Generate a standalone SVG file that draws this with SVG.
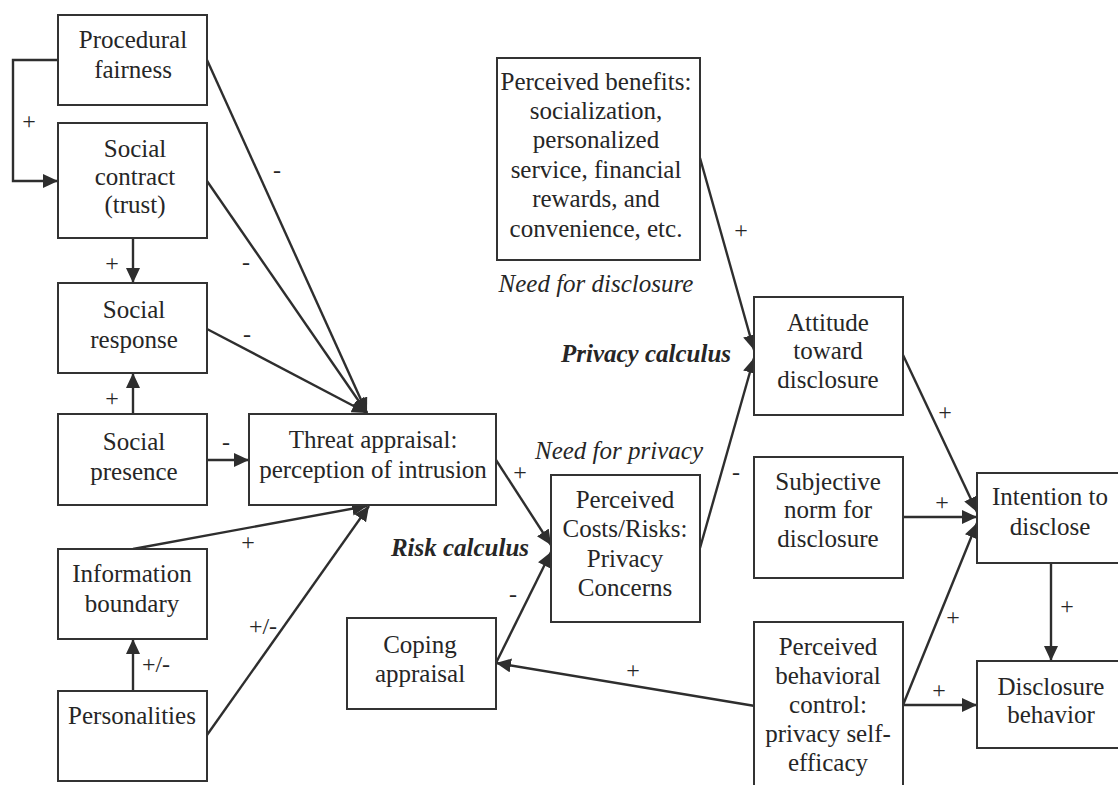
<svg xmlns="http://www.w3.org/2000/svg" width="1118" height="785" viewBox="0 0 1118 785">
  <style>
    .box { fill: #ffffff; stroke: #333333; stroke-width: 2; }
    .t { font-family: "Liberation Serif", "Times New Roman", serif; font-size: 25px; fill: #262626; text-anchor: middle; }
    .lbl { font-family: "Liberation Serif", "Times New Roman", serif; font-size: 24px; fill: #262626; text-anchor: middle; }
    .it { font-family: "Liberation Serif", "Times New Roman", serif; font-size: 25px; font-style: italic; fill: #262626; text-anchor: middle; }
    .bi { font-family: "Liberation Serif", "Times New Roman", serif; font-size: 25px; font-style: italic; font-weight: bold; fill: #262626; text-anchor: middle; }
    .c { fill: none; stroke: #2e2e2e; stroke-width: 2.4; marker-end: url(#arrow); }
  </style>
  <defs>
    <marker id="arrow" markerUnits="userSpaceOnUse" markerWidth="16" markerHeight="14" refX="15" refY="7" orient="auto">
      <path d="M0,0 L15,7 L0,14 Z" fill="#2e2e2e"/>
    </marker>
  </defs>
  <rect width="1118" height="785" fill="#ffffff"/>

  <!-- connectors -->
  <g id="connectors">
    <path class="c" d="M58,60 H13 V181 H58"/>
    <path class="c" d="M133,238 V283"/>
    <path class="c" d="M133,414 V373"/>
    <path class="c" d="M207,60 L367,413"/>
    <path class="c" d="M207,181 L367,413"/>
    <path class="c" d="M207,329 L367,413"/>
    <path class="c" d="M207,460 H249"/>
    <path class="c" d="M133,549 L367,506"/>
    <path class="c" d="M207,735 L369,506"/>
    <path class="c" d="M133,691 V639"/>
    <path class="c" d="M496,460 L551,545"/>
    <path class="c" d="M496,663 L551,552"/>
    <path class="c" d="M755,706 L496,663"/>
    <path class="c" d="M700,158 L754,350"/>
    <path class="c" d="M700,548 L754,358"/>
    <path class="c" d="M903,355 L977,512"/>
    <path class="c" d="M903,517 H977"/>
    <path class="c" d="M903,705 L977,523"/>
    <path class="c" d="M903,705 H977"/>
    <path class="c" d="M1051,563 V661"/>

    <!-- signs on the paths -->
    <text class="lbl" x="29" y="129">+</text>
    <text class="lbl" x="277" y="178">-</text>
    <text class="lbl" x="112" y="271">+</text>
    <text class="lbl" x="246" y="270">-</text>
    <text class="lbl" x="247" y="342">-</text>
    <text class="lbl" x="112" y="406">+</text>
    <text class="lbl" x="226" y="450">-</text>
    <text class="lbl" x="248" y="550">+</text>
    <text class="lbl" x="263" y="634">+/-</text>
    <text class="lbl" x="156" y="672">+/-</text>
    <text class="lbl" x="520" y="480">+</text>
    <text class="lbl" x="513" y="602">-</text>
    <text class="lbl" x="633" y="678">+</text>
    <text class="lbl" x="736" y="480">-</text>
    <text class="lbl" x="741" y="238">+</text>
    <text class="lbl" x="945" y="420">+</text>
    <text class="lbl" x="942" y="510">+</text>
    <text class="lbl" x="953" y="625">+</text>
    <text class="lbl" x="939" y="698">+</text>
    <text class="lbl" x="1067" y="614">+</text>
  </g>

  <g id="procedural-fairness">
    <rect class="box" x="58" y="15" width="149" height="90"/>
    <text class="t" x="133" y="48">Procedural</text>
    <text class="t" x="133" y="78">fairness</text>
  </g>
  <g id="social-contract">
    <rect class="box" x="58" y="123" width="149" height="115"/>
    <text class="t" x="135" y="157">Social</text>
    <text class="t" x="135" y="185">contract</text>
    <text class="t" x="135" y="213">(trust)</text>
  </g>
  <g id="social-response">
    <rect class="box" x="58" y="283" width="149" height="90"/>
    <text class="t" x="134" y="318">Social</text>
    <text class="t" x="134" y="348">response</text>
  </g>
  <g id="social-presence">
    <rect class="box" x="58" y="414" width="149" height="91"/>
    <text class="t" x="134" y="450">Social</text>
    <text class="t" x="134" y="480">presence</text>
  </g>
  <g id="information-boundary">
    <rect class="box" x="58" y="549" width="149" height="90"/>
    <text class="t" x="132" y="582">Information</text>
    <text class="t" x="132" y="612">boundary</text>
  </g>
  <g id="personalities">
    <rect class="box" x="58" y="691" width="149" height="90"/>
    <text class="t" x="132" y="724">Personalities</text>
  </g>
  <g id="threat-appraisal">
    <rect class="box" x="249" y="414" width="247" height="91"/>
    <text class="t" x="373" y="448">Threat appraisal:</text>
    <text class="t" x="373" y="478">perception of intrusion</text>
  </g>
  <g id="perceived-benefits">
    <rect class="box" x="497" y="58" width="203" height="202"/>
    <text class="t" x="596" y="90">Perceived benefits:</text>
    <text class="t" x="596" y="119">socialization,</text>
    <text class="t" x="596" y="148">personalized</text>
    <text class="t" x="596" y="178">service, financial</text>
    <text class="t" x="596" y="207">rewards, and</text>
    <text class="t" x="596" y="237">convenience, etc.</text>
    <text class="it" x="596" y="292">Need for disclosure</text>
  </g>
  <g id="perceived-costs">
    <text class="it" x="619" y="459">Need for privacy</text>
    <rect class="box" x="551" y="475" width="149" height="147"/>
    <text class="t" x="625" y="508">Perceived</text>
    <text class="t" x="625" y="537">Costs/Risks:</text>
    <text class="t" x="625" y="567">Privacy</text>
    <text class="t" x="625" y="596">Concerns</text>
  </g>
  <g id="calculus-labels">
    <text class="bi" x="646" y="362">Privacy calculus</text>
    <text class="bi" x="460" y="556">Risk calculus</text>
  </g>
  <g id="coping-appraisal">
    <rect class="box" x="347" y="618" width="149" height="91"/>
    <text class="t" x="420" y="653">Coping</text>
    <text class="t" x="420" y="682">appraisal</text>
  </g>
  <g id="attitude">
    <rect class="box" x="754" y="297" width="149" height="118"/>
    <text class="t" x="828" y="331">Attitude</text>
    <text class="t" x="828" y="359">toward</text>
    <text class="t" x="828" y="388">disclosure</text>
  </g>
  <g id="subjective-norm">
    <rect class="box" x="754" y="457" width="149" height="121"/>
    <text class="t" x="828" y="490">Subjective</text>
    <text class="t" x="828" y="518">norm for</text>
    <text class="t" x="828" y="547">disclosure</text>
  </g>
  <g id="behavioral-control">
    <rect class="box" x="754" y="622" width="149" height="180"/>
    <text class="t" x="828" y="655">Perceived</text>
    <text class="t" x="828" y="684">behavioral</text>
    <text class="t" x="828" y="713">control:</text>
    <text class="t" x="828" y="742">privacy self-</text>
    <text class="t" x="828" y="771">efficacy</text>
  </g>
  <g id="intention">
    <rect class="box" x="977" y="473" width="160" height="90"/>
    <text class="t" x="1050" y="505">Intention to</text>
    <text class="t" x="1050" y="535">disclose</text>
  </g>
  <g id="disclosure-behavior">
    <rect class="box" x="977" y="661" width="160" height="87"/>
    <text class="t" x="1051" y="695">Disclosure</text>
    <text class="t" x="1051" y="723">behavior</text>
  </g>
</svg>
